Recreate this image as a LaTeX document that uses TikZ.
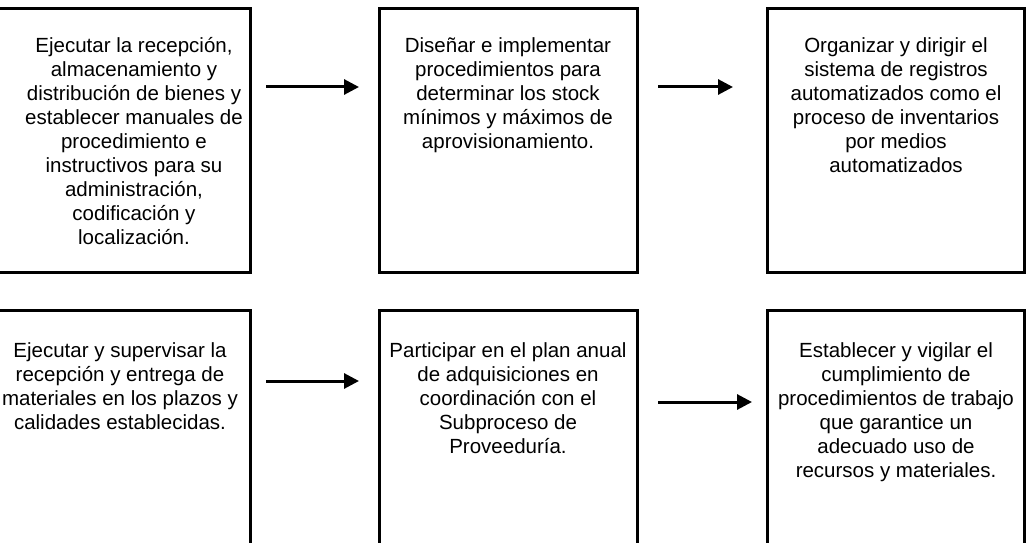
\documentclass[tikz,border=0pt]{standalone}
\usepackage{fontspec}
\setmainfont{Liberation Sans}
\usetikzlibrary{arrows.meta}
\begin{document}
\begin{tikzpicture}[x=1pt,y=1pt,
  boxline/.style={draw=black,line width=3pt},
  txt/.style={anchor=north,inner sep=0pt,align=center,font=\fontsize{20.5}{24}\selectfont},
  arr/.style={line width=3pt,-{Triangle[length=15pt,width=15pt]}}]
\useasboundingbox (0,0) rectangle (1026,-543);
\clip (0,0) rectangle (1026,-543);
\fill[white] (0,0) rectangle (1026,-543);
% boxes
\draw[boxline] (-20,-9) rectangle (250,-272.5);
\draw[boxline] (379,-9) rectangle (637.5,-272.5);
\draw[boxline] (767,-9) rectangle (1024.5,-272.5);
\draw[boxline] (-20,-310) rectangle (250,-600);
\draw[boxline] (379,-310) rectangle (637.5,-600);
\draw[boxline] (767,-310) rectangle (1024.5,-600);
% texts
\node[txt] (t1) at (134,-37) {Ejecutar la recepción,\\almacenamiento y\\distribución de bienes y\\establecer manuales de\\procedimiento e\\instructivos para su\\administración,\\codificación y\\localización.};
\node[txt] (t2) at (508,-37) {Diseñar e implementar\\procedimientos para\\determinar los stock\\mínimos y máximos de\\aprovisionamiento.};
\node[txt] (t3) at (896,-37) {Organizar y dirigir el\\sistema de registros\\automatizados como el\\proceso de inventarios\\por medios\\automatizados};
\node[txt] (t4) at (120,-342) {Ejecutar y supervisar la\\recepción y entrega de\\materiales en los plazos y\\calidades establecidas.};
\node[txt] (t5) at (508,-342) {Participar en el plan anual\\de adquisiciones en\\coordinación con el\\Subproceso de\\Proveeduría.};
\node[txt] (t6) at (896,-342) {Establecer y vigilar el\\cumplimiento de\\procedimientos de trabajo\\que garantice un\\adecuado uso de\\recursos y materiales.};
% arrows
\coordinate (a1s) at (266,-87);
\coordinate (a1e) at (359,-87);
\coordinate (a2s) at (658,-87);
\coordinate (a2e) at (733,-87);
\coordinate (a3s) at (266,-381);
\coordinate (a3e) at (359,-381);
\coordinate (a4s) at (658,-402);
\coordinate (a4e) at (752,-402);
\draw[arr] (a1s) -- (a1e);
\draw[arr] (a2s) -- (a2e);
\draw[arr] (a3s) -- (a3e);
\draw[arr] (a4s) -- (a4e);
\end{tikzpicture}
\end{document}
